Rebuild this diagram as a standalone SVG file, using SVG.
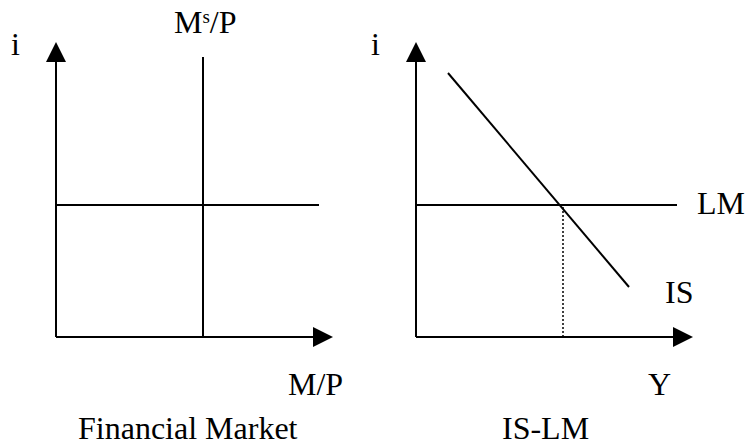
<svg xmlns="http://www.w3.org/2000/svg" width="745" height="446" viewBox="0 0 745 446">
<style>
.ln{stroke:#000;stroke-width:2;fill:none}
.dot{stroke:#000;stroke-width:1.5;stroke-dasharray:2 2;fill:none}
text{font-family:"Liberation Serif","Times New Roman",serif;font-size:32px;fill:#000}
.sup{font-size:19px}
</style>
<defs>
<marker id="ah" markerWidth="20" markerHeight="20" viewBox="0 0 20 20" refX="0" refY="10" orient="auto" markerUnits="userSpaceOnUse">
<path d="M0,0 L20,10 L0,20 Z" fill="#000"/>
</marker>
</defs>
<g id="connectors">
<line class="ln" x1="56" y1="337" x2="56" y2="62" marker-end="url(#ah)"/>
<line class="ln" x1="56" y1="337" x2="313" y2="337" marker-end="url(#ah)"/>
<line class="ln" x1="203" y1="57" x2="203" y2="337"/>
<line class="ln" x1="56" y1="205" x2="319" y2="205"/>
<line class="ln" x1="416" y1="337" x2="416" y2="62" marker-end="url(#ah)"/>
<line class="ln" x1="416" y1="337" x2="673" y2="337" marker-end="url(#ah)"/>
<line class="ln" x1="416" y1="205" x2="677" y2="205"/>
<line class="ln" x1="448" y1="73" x2="629" y2="287"/>
<line class="dot" x1="563" y1="207" x2="563" y2="336"/>
</g>
<g id="financial-market">
<text x="11" y="55">i</text>
<text x="174" y="33">M<tspan class="sup" dy="-10">s</tspan><tspan dy="10">/P</tspan></text>
<text x="288" y="395">M/P</text>
<text x="78" y="439">Financial Market</text>
</g>
<g id="is-lm">
<text x="371" y="55">i</text>
<text x="697" y="214">LM</text>
<text x="665" y="303">IS</text>
<text x="648" y="395">Y</text>
<text x="502" y="439">IS-LM</text>
</g>
</svg>
